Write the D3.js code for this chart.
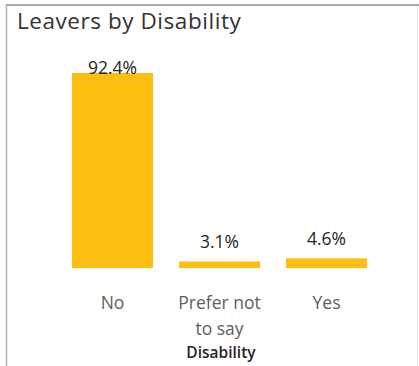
<!DOCTYPE html>
<html>
<head>
<meta charset="utf-8">
<script src="https://cdn.jsdelivr.net/npm/d3@7"></script>
<style>
  html, body { margin: 0; padding: 0; background: #fff; }
  svg { display: block; }
</style>
</head>
<body>
<svg id="chart" width="419" height="366"></svg>
<script>
// Leavers by disability status, share of all leavers (%)
const categories = ["No", "Prefer not to say", "Yes"];
const shares = [92.4, 3.1, 4.6];
const categoryLines = [["No"], ["Prefer not", "to say"], ["Yes"]];

const svg = d3.select("#chart");
const W = 419, H = 366;
const font = "'Segoe UI', 'Open Sans', 'Noto Sans', sans-serif";

// card frame
svg.append("line").attr("x1", 6).attr("x2", W).attr("y1", 5).attr("y2", 5)
  .attr("stroke", "#a8a8a8").attr("stroke-width", 2);
svg.append("line").attr("x1", 6.5).attr("x2", 6.5).attr("y1", 4).attr("y2", H)
  .attr("stroke", "#b4b4b4").attr("stroke-width", 1.5);
svg.append("line").attr("x1", 417.5).attr("x2", 417.5).attr("y1", 6).attr("y2", H)
  .attr("stroke", "#e6e6e6").attr("stroke-width", 1);

// title
svg.append("text").attr("x", 17).attr("y", 29)
  .attr("font-family", font).attr("font-size", 22.5)
  .attr("letter-spacing", 0.55)
  .attr("fill", "#333333").text("Leavers by Disability");

const x = d3.scaleBand().domain(categories)
  .range([59, 380]).paddingInner(0.243).paddingOuter(0.1215);
const y = d3.scaleLinear().domain([0, 92.4]).range([268, 73]);

// bars
svg.append("g").selectAll("rect").data(categories).join("rect")
  .attr("x", d => x(d))
  .attr("width", x.bandwidth())
  .attr("y", (d, i) => y(shares[i]))
  .attr("height", (d, i) => y(0) - y(shares[i]))
  .attr("fill", "#FDBE12");

// value labels
svg.append("g").selectAll("text").data(categories).join("text")
  .attr("x", d => x(d) + x.bandwidth() / 2)
  .attr("y", (d, i) => Math.max(y(shares[i]) - 13, 74))
  .attr("text-anchor", "middle")
  .attr("font-family", font).attr("font-size", 17.5)
  .attr("fill", "#252423")
  .text((d, i) => shares[i].toFixed(1) + "%");

// category axis (text only)
const xAxis = svg.append("g");
categories.forEach((c, i) => {
  const t = xAxis.append("text")
    .attr("x", x(c) + x.bandwidth() / 2)
    .attr("y", 309)
    .attr("text-anchor", "middle")
    .attr("font-family", font).attr("font-size", 17.5)
    .attr("fill", "#605E5C");
  categoryLines[i].forEach((line, j) => {
    t.append("tspan").attr("x", x(c) + x.bandwidth() / 2)
      .attr("dy", j === 0 ? 0 : 25.5).text(line);
  });
});

// axis title
svg.append("text")
  .attr("x", (x.range()[0] + x.range()[1]) / 2 + 1.5)
  .attr("y", 358)
  .attr("text-anchor", "middle")
  .attr("font-family", font).attr("font-size", 15.5)
  .attr("font-weight", 600)
  .attr("fill", "#252423")
  .text("Disability");
</script>
</body>
</html>
